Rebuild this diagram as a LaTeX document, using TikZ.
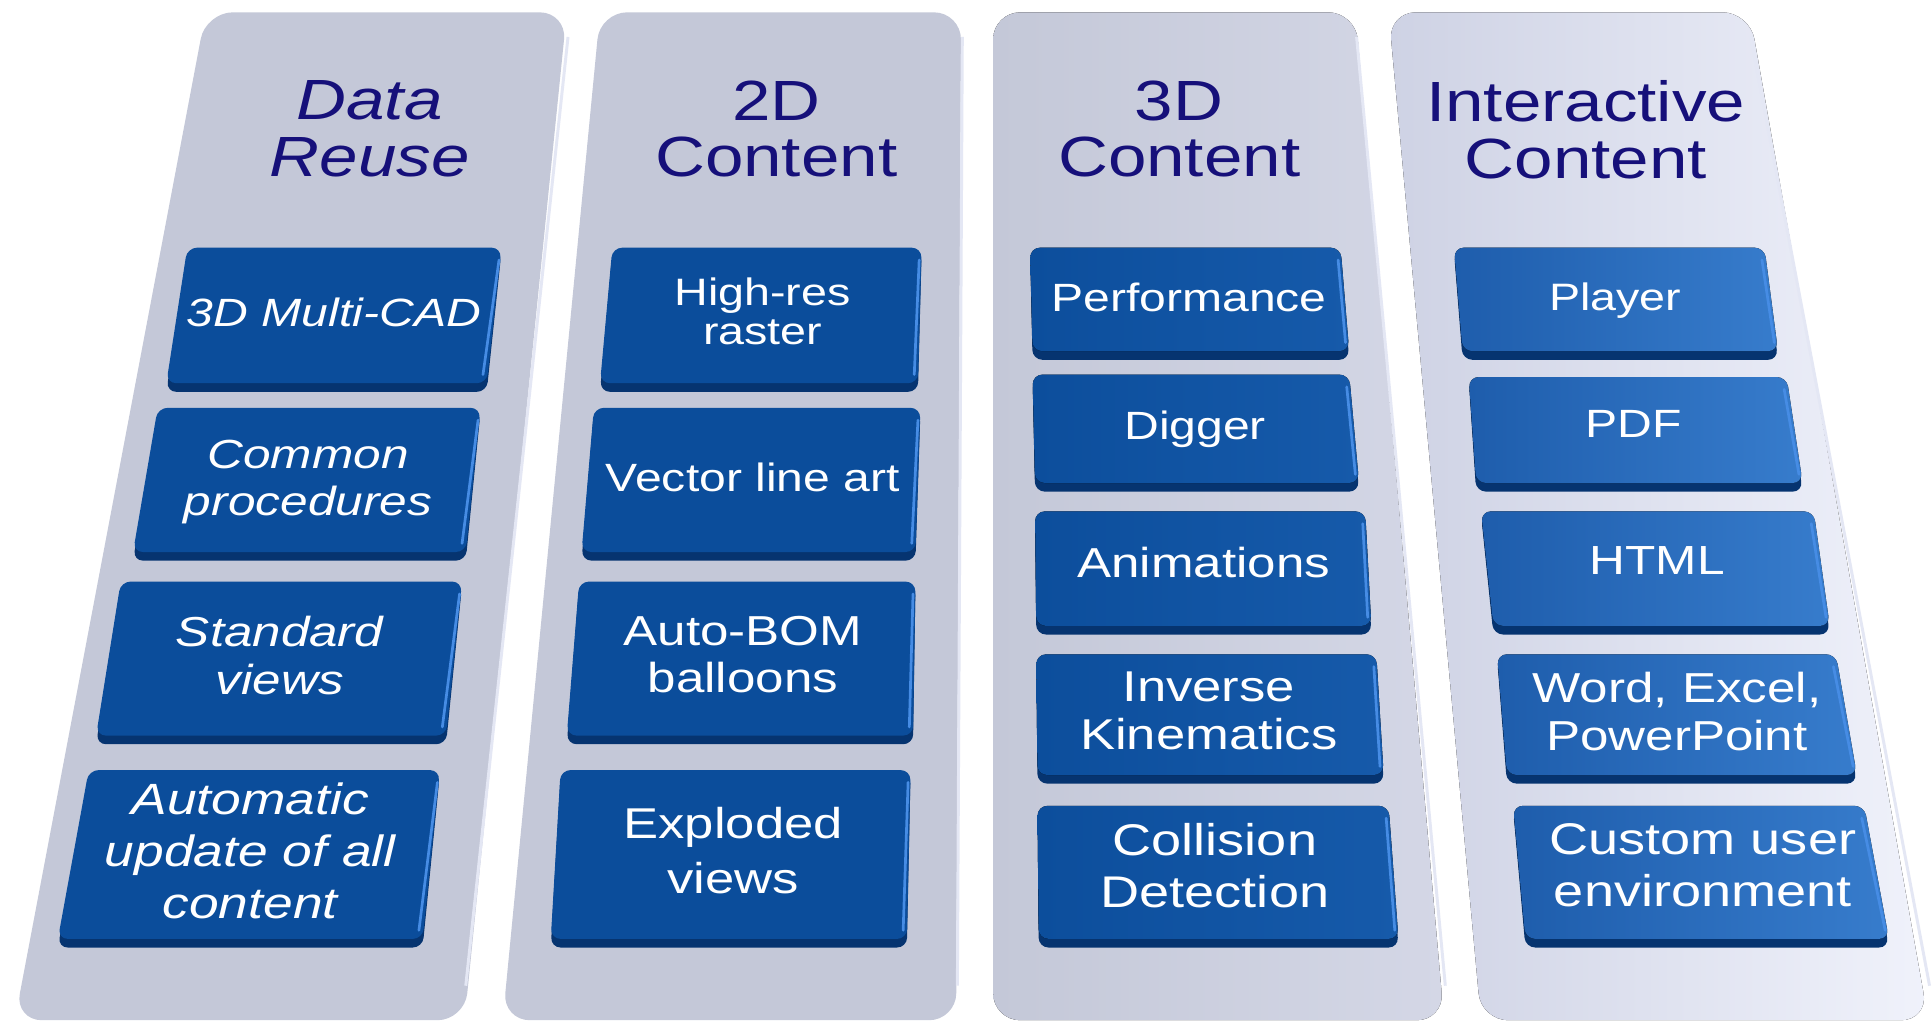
\documentclass[tikz,border=0pt]{standalone}
\usepackage{fontspec}
\setmainfont{Liberation Sans}[FakeStretch=1.22]
\usetikzlibrary{calc}
\definecolor{titlec}{RGB}{22,16,122}
\definecolor{panelc}{RGB}{196,200,216}
\definecolor{panelr}{RGB}{212,215,230}
\definecolor{p4l}{RGB}{206,210,228}
\definecolor{p4r}{RGB}{240,242,251}
\definecolor{boxc}{RGB}{11,77,155}
\definecolor{box3l}{RGB}{12,78,156}
\definecolor{box3r}{RGB}{22,90,170}
\definecolor{box4l}{RGB}{30,93,172}
\definecolor{box4r}{RGB}{55,124,204}
\definecolor{boxedge}{RGB}{6,52,112}
\definecolor{boxhl}{RGB}{70,140,228}
\definecolor{rim}{RGB}{228,231,244}
\tikzset{
  ttl/.style={text=titlec, font=\fontsize{23}{23}\selectfont, align=center, inner sep=0pt, anchor=north},
  ttli/.style={text=titlec, font=\fontsize{23}{23}\selectfont\itshape, align=center, inner sep=0pt, anchor=north},
  bt/.style 2 args={text=white, align=center, inner sep=0pt, anchor=north, font=\fontsize{#1}{#2}\selectfont},
  bti/.style 2 args={text=white, align=center, inner sep=0pt, anchor=north, font=\fontsize{#1}{#2}\selectfont\itshape},
}
% panel: top-left x, top-right x, bottom-right x, bottom-left x, fill options
\newcommand\mypanel[5]{%
  \fill[#5, rounded corners=11pt] (#1,10) -- (#2,10) -- (#3,828) -- (#4,828) -- cycle;
  \draw[rim, line width=1.2pt] (#2+1,30) -- (#3+1,800);
}
% box: tlx, trx, blx, brx, top, bottom, fill options
\newcommand\qbox[7]{%
  \fill[boxedge, rounded corners=4pt] (#1,#5+3) -- (#2,#5+3) -- (#4,#6) -- (#3,#6) -- cycle;
  \fill[#7, rounded corners=4pt] (#1,#5) -- (#2,#5) -- (#4,#6-7) -- (#3,#6-7) -- cycle;
  \draw[boxhl, line width=1.1pt, line cap=round] (#2-2,#5+10) -- (#4-3,#6-14);
}
\begin{document}
\begin{tikzpicture}[x=0.5pt,y=-0.5pt]
\useasboundingbox (0,0) rectangle (1568,830);
\fill[white] (0,0) rectangle (1568,830);
% panels
\mypanel{167}{460}{377}{12}{panelc}
\mypanel{487}{780}{776}{408}{panelc}
\mypanel{806}{1100}{1172}{806}{left color=panelc, right color=panelr}
\mypanel{1127}{1420}{1565}{1202}{left color=p4l, right color=p4r}
% titles
\node[ttli] (t1) at (300,65) {Data\\Reuse};
\node[ttl] (t2) at (630,65) {2D\\Content};
\node[ttl] (t3) at (957,65) {3D\\Content};
\node[ttl] (t4) at (1287,65) {Interactive\\Content};
% panel 1 boxes
\qbox{152}{407}{135}{395}{201}{318}{boxc}
\qbox{128}{390}{108}{378}{331}{455}{boxc}
\qbox{98}{375}{78}{362}{472}{604}{boxc}
\qbox{72}{357}{47}{343}{625}{769}{boxc}
\node[bti={16}{19}] (a1) at (271,241) {3D Multi-CAD};
\node[bti={16.5}{19}] (a2) at (250,357) {Common\\procedures};
\node[bti={17}{19.5}] (a3) at (227,500) {Standard\\views};
\node[bti={17.75}{21}] (a4) at (203,635) {Automatic\\update of all\\content};
% panel 2 boxes
\qbox{497}{748}{487}{745}{201}{318}{boxc}
\qbox{482}{747}{472}{743}{331}{455}{boxc}
\qbox{470}{743}{460}{741}{472}{604}{boxc}
\qbox{455}{739}{447}{736}{625}{769}{boxc}
\node[bt={15.5}{16}] (b1) at (619,225) {High-res\\raster};
\node[bt={16}{19}] (b2) at (611,375) {Vector line art};
\node[bt={17}{19}] (b3) at (603,500) {Auto-BOM\\balloons};
\node[bt={17.5}{22}] (b4) at (595,655) {Exploded\\views};
% panel 3 boxes
\qbox{836}{1088}{838}{1095}{201}{292}{left color=box3l, right color=box3r}
\qbox{838}{1095}{840}{1103}{304}{399}{left color=box3l, right color=box3r}
\qbox{840}{1108}{841}{1113}{415}{515}{left color=box3l, right color=box3r}
\qbox{841}{1117}{842}{1123}{531}{636}{left color=box3l, right color=box3r}
\qbox{842}{1127}{843}{1135}{654}{769}{left color=box3l, right color=box3r}
\node[bt={16}{19}] (c1) at (965,229) {Performance};
\node[bt={16}{19}] (c2) at (970,333) {Digger};
\node[bt={17}{19}] (c3) at (977,444) {Animations};
\node[bt={17.5}{19.5}] (c4) at (981,545) {Inverse\\Kinematics};
\node[bt={18}{21}] (c5) at (986,668) {Collision\\Detection};
% panel 4 boxes
\qbox{1180}{1432}{1187}{1443}{201}{292}{left color=box4l, right color=box4r}
\qbox{1192}{1450}{1198}{1463}{306}{399}{left color=box4l, right color=box4r}
\qbox{1202}{1472}{1212}{1485}{415}{515}{left color=box4l, right color=box4r}
\qbox{1215}{1490}{1223}{1507}{531}{636}{left color=box4l, right color=box4r}
\qbox{1228}{1513}{1238}{1533}{654}{769}{left color=box4l, right color=box4r}
\node[bt={15.5}{19}] (d1) at (1311,229) {Player};
\node[bt={16}{19}] (d2) at (1326,333) {PDF};
\node[bt={16.5}{19}] (d3) at (1345,443) {HTML};
\node[bt={17}{19.5}] (d4) at (1361,545) {Word, Excel,\\PowerPoint};
\node[bt={18}{21}] (d5) at (1382,668) {Custom user\\environment};
\end{tikzpicture}
\end{document}
